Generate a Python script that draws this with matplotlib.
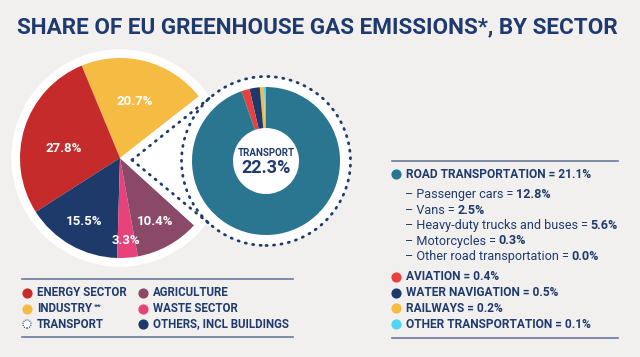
import numpy as np
import matplotlib
matplotlib.use("Agg")
import matplotlib.pyplot as plt
from matplotlib.patches import Circle, Polygon

# data
sectors = ["INDUSTRY", "ENERGY SECTOR", "OTHERS, INCL BUILDINGS", "WASTE SECTOR", "AGRICULTURE", "TRANSPORT"]
shares = [20.7, 27.8, 15.5, 3.3, 10.4, 22.3]
sector_colors = ["#f6bb42", "#c42b2a", "#1d3a6a", "#e7437a", "#8a4a67", "#ffffff"]

transport_modes = ["OTHER TRANSPORTATION", "RAILWAYS", "WATER NAVIGATION", "AVIATION", "ROAD TRANSPORTATION"]
transport_shares = [0.1, 0.2, 0.5, 0.4, 21.1]
transport_colors = ["#4fd6f2", "#f6bb42", "#1d3a6a", "#e8403f", "#2a7590"]

road_items = ["Passenger cars", "Vans", "Heavy-duty trucks and buses", "Motorcycles", "Other road transportation"]
road_shares = [12.8, 2.5, 5.6, 0.3, 0.0]

NAVY = "#1f3a6e"
BG = "#f1f0ee"
H = 357

plt.rcParams['font.family'] = ['Roboto', 'DejaVu Sans']

fig = plt.figure(figsize=(6.4, 3.57), dpi=100)
fig.patch.set_facecolor(BG)
ax = fig.add_axes([0, 0, 1, 1])
ax.set_facecolor(BG)


def Y(py):
    return H - py


# centres (pixel coords)
pc = (120, Y(158))
tc = (266, Y(161))
pr, tr = 100, 74
dot_r = 84.5

# white background shapes
ax.add_patch(Circle(pc, 108, color="white", zorder=1))
ax.add_patch(Circle(tc, dot_r - 1, color="white", zorder=1))
apex = (132, Y(160))
dx, dy = tc[0] - apex[0], tc[1] - apex[1]
d = np.hypot(dx, dy)
base = np.degrees(np.arctan2(apex[1] - tc[1], apex[0] - tc[0]))
half = np.degrees(np.arccos(dot_r / d))
tang = [(tc[0] + dot_r * np.cos(np.radians(base + s * half)),
         tc[1] + dot_r * np.sin(np.radians(base + s * half))) for s in (1, -1)]
ax.add_patch(Polygon([apex, tang[0], tang[1]], closed=True, color="white", zorder=1))

# main pie
wedges, _ = ax.pie(shares, colors=sector_colors, startangle=38, counterclock=True,
                   center=pc, radius=pr, frame=True,
                   wedgeprops=dict(linewidth=0))
for w in wedges:
    w.set_zorder(2)
label_r = [58, 57, 73, 83, 73]
label_shift = [0, 8, 0, 0, 0]
for w, v, r, sh in zip(wedges[:-1], shares[:-1], label_r, label_shift):
    ang = np.radians((w.theta1 + w.theta2) / 2 + sh)
    ax.text(pc[0] + r * np.cos(ang), pc[1] + r * np.sin(ang), f"{v}%",
            color="white", fontsize=9.5, fontweight="bold", ha="center", va="center", zorder=4)

# dotted connectors and circle
dots = (0, (0.4, 2.3))
for tp in tang:
    ax.plot([apex[0], tp[0]], [apex[1], tp[1]], ls=dots, color=NAVY,
            lw=2, dash_capstyle="round", zorder=3)
ax.add_patch(Circle(tc, dot_r, fill=False, edgecolor=NAVY, lw=2,
                    ls=dots, capstyle="round", zorder=3))

# transport donut
tw, _ = ax.pie(transport_shares, colors=transport_colors, startangle=90, counterclock=True,
               center=tc, radius=tr, frame=True,
               wedgeprops=dict(width=tr - 33, linewidth=0))
for w in tw:
    w.set_zorder(2)
ax.text(tc[0], Y(153), "TRANSPORT", color=NAVY, fontsize=7, fontweight="bold",
        ha="center", va="center", zorder=4)
ax.text(tc[0], Y(168), f"{shares[-1]}%", color=NAVY, fontsize=13, fontweight="bold",
        ha="center", va="center", zorder=4)

ax.set_xlim(0, 640)
ax.set_ylim(0, H)
ax.set_aspect("auto")
ax.axis("off")

# title
ax.text(17, Y(27), "SHARE OF EU GREENHOUSE GAS EMISSIONS*, BY SECTOR", color=NAVY,
        fontsize=16.2, fontweight="bold", ha="left", va="center")

LINE = "#6b789a"
TXT = "#1f3a6e"
FS = 8.6
SUB_FS = 9.1

# right legend
ax.plot([392, 618], [Y(161), Y(161)], color=LINE, lw=1.2)
ax.plot([392, 618], [Y(338), Y(338)], color=LINE, lw=1.2)
ax.scatter([396], [Y(174)], s=40, color=transport_colors[-1], zorder=4)
ax.text(406, Y(174), f"{transport_modes[-1]} = {transport_shares[-1]}%", color=TXT,
        fontsize=FS, fontweight="bold", va="center")

fig.canvas.draw()
renderer = fig.canvas.get_renderer()
inv = ax.transData.inverted()
for i, (name, val) in enumerate(zip(road_items, road_shares)):
    y = Y(193 + i * 15.5)
    t = ax.text(405, y, f"\u2013 {name} =", color=TXT, fontsize=SUB_FS, va="center_baseline")
    x1 = inv.transform(t.get_window_extent(renderer).get_points())[1][0]
    ax.text(x1 + 2.5, y, f"{val}%", color=TXT, fontsize=SUB_FS, fontweight="bold",
            va="center_baseline")

for i, k in enumerate([3, 2, 1, 0]):
    y = Y(277 + i * 15.7)
    ax.scatter([396], [y], s=40, color=transport_colors[k], zorder=4)
    ax.text(406, y, f"{transport_modes[k]} = {transport_shares[k]}%", color=TXT,
            fontsize=FS, fontweight="bold", va="center")

# bottom-left legend
ax.plot([22, 293], [Y(279), Y(279)], color=LINE, lw=1.2)
ax.plot([22, 293], [Y(337), Y(337)], color=LINE, lw=1.2)
legend_order = [1, 0, 5, 4, 3, 2]
for j, k in enumerate(legend_order):
    col, row = divmod(j, 3)
    x = 27 + col * 116
    y = Y(293 + row * 15.5)
    if sectors[k] == "TRANSPORT":
        ax.scatter([x], [y], s=34, facecolor="white", edgecolor=NAVY, lw=0.8,
                   linestyle=(0, (1, 1)), zorder=4)
    else:
        ax.scatter([x], [y], s=40, color=sector_colors[k], zorder=4)
    t = ax.text(x + 10, y, sectors[k], color=TXT, fontsize=8.3, fontweight="bold", va="center")
    if sectors[k] == "INDUSTRY":
        x1 = inv.transform(t.get_window_extent(renderer).get_points())[1][0]
        ax.text(x1 + 1.5, y + 2, "**", color=TXT, fontsize=6, fontweight="bold", va="center")

fig.savefig("out.png", dpi=100, facecolor=BG)
